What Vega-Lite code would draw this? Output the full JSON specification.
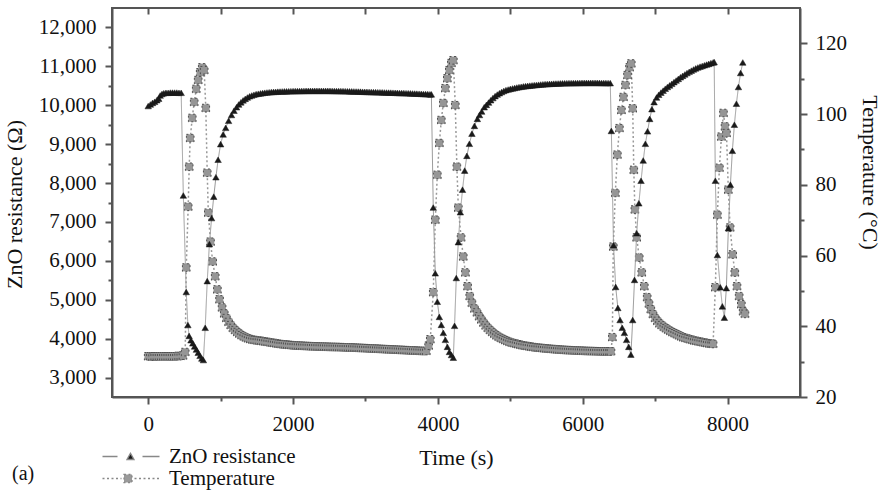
{
  "$schema": "https://vega.github.io/schema/vega-lite/v6.json",
  "width": 688,
  "height": 389,
  "autosize": {"type": "none"},
  "padding": {"left": 112, "top": 8, "right": 84, "bottom": 95},
  "background": "white",
  "title": {"text": "(a)", "orient": "bottom", "anchor": "start", "frame": "group", "dx": -100, "offset": -25, "font": "Liberation Serif", "fontSize": 20, "fontWeight": "normal", "color": "#111"},
  "config": {
    "font": "Liberation Serif",
    "view": {"stroke": "#555", "strokeWidth": 2},
    "axis": {"labelFont": "Liberation Serif", "titleFont": "Liberation Serif", "labelFontSize": 21, "titleFontSize": 22, "titleFontWeight": "normal", "labelColor": "#111", "titleColor": "#111", "domainColor": "#555", "domainWidth": 2, "tickColor": "#555", "tickWidth": 2, "grid": false}
  },
  "datasets": {
    "res": [
      {"t":0,"R":9980},{"t":30,"R":10020},{"t":60,"R":10060},{"t":90,"R":10090},{"t":120,"R":10130},{"t":145,"R":10170},{"t":165,"R":10250},{"t":190,"R":10290},{"t":215,"R":10310},{"t":245,"R":10320},{"t":275,"R":10320},{"t":305,"R":10325},{"t":335,"R":10325},{"t":365,"R":10325},{"t":395,"R":10325},{"t":425,"R":10320},{"t":455,"R":10320},
      {"t":485,"R":7680},{"t":525,"R":5200},{"t":548,"R":4350},{"t":565,"R":4070},{"t":590,"R":3960},{"t":615,"R":3880},{"t":640,"R":3800},{"t":665,"R":3720},{"t":690,"R":3640},{"t":715,"R":3560},{"t":740,"R":3490},{"t":762,"R":3450},
      {"t":787,"R":4280},{"t":815,"R":5480},{"t":845,"R":6430},{"t":875,"R":7100},{"t":905,"R":7650},{"t":935,"R":8150},{"t":965,"R":8600},{"t":1000,"R":9000},{"t":1035,"R":9250},{"t":1070,"R":9420},{"t":1110,"R":9600},{"t":1150,"R":9750},{"t":1185,"R":9860},{"t":1220,"R":9950},
      {"t":1250,"R":10020},{"t":1280,"R":10075},{"t":1310,"R":10125},{"t":1340,"R":10165},{"t":1370,"R":10200},{"t":1400,"R":10230},{"t":1430,"R":10252},{"t":1460,"R":10270},{"t":1490,"R":10285},{"t":1520,"R":10297},{"t":1550,"R":10305},{"t":1580,"R":10314},{"t":1610,"R":10322},{"t":1640,"R":10328},{"t":1670,"R":10334},{"t":1700,"R":10340},{"t":1730,"R":10343},{"t":1760,"R":10346},{"t":1790,"R":10349},{"t":1820,"R":10352},{"t":1850,"R":10355},{"t":1880,"R":10357},{"t":1910,"R":10358},{"t":1940,"R":10360},{"t":1970,"R":10361},
      {"t":2000,"R":10362},{"t":2030,"R":10364},{"t":2060,"R":10365},{"t":2090,"R":10366},{"t":2120,"R":10367},{"t":2150,"R":10368},{"t":2180,"R":10369},{"t":2210,"R":10369},{"t":2240,"R":10370},{"t":2270,"R":10370},{"t":2300,"R":10370},{"t":2330,"R":10370},{"t":2360,"R":10370},{"t":2390,"R":10370},{"t":2420,"R":10370},{"t":2450,"R":10370},{"t":2480,"R":10370},{"t":2510,"R":10369},{"t":2540,"R":10368},{"t":2570,"R":10367},{"t":2600,"R":10366},{"t":2630,"R":10365},{"t":2660,"R":10364},{"t":2690,"R":10362},{"t":2720,"R":10361},{"t":2750,"R":10360},{"t":2780,"R":10358},{"t":2810,"R":10356},{"t":2840,"R":10355},{"t":2870,"R":10353},{"t":2900,"R":10351},{"t":2930,"R":10349},{"t":2960,"R":10347},{"t":2990,"R":10345},{"t":3020,"R":10344},{"t":3050,"R":10342},{"t":3080,"R":10340},{"t":3110,"R":10338},{"t":3140,"R":10336},{"t":3170,"R":10334},{"t":3200,"R":10333},{"t":3230,"R":10331},{"t":3260,"R":10329},{"t":3290,"R":10327},{"t":3320,"R":10325},{"t":3350,"R":10324},{"t":3380,"R":10322},{"t":3410,"R":10320},{"t":3440,"R":10318},{"t":3470,"R":10316},{"t":3500,"R":10315},{"t":3530,"R":10313},{"t":3560,"R":10310},{"t":3590,"R":10308},{"t":3620,"R":10306},{"t":3650,"R":10303},{"t":3680,"R":10301},{"t":3710,"R":10298},{"t":3740,"R":10296},{"t":3770,"R":10293},{"t":3800,"R":10290},{"t":3830,"R":10288},{"t":3860,"R":10285},{"t":3890,"R":10281},{"t":3910,"R":10280},
      {"t":3936,"R":7370},{"t":3964,"R":5680},{"t":3992,"R":4950},{"t":4020,"R":4560},{"t":4047,"R":4355},{"t":4075,"R":4150},{"t":4103,"R":3970},{"t":4131,"R":3790},{"t":4159,"R":3660},{"t":4187,"R":3580},{"t":4213,"R":3510},
      {"t":4230,"R":4330},{"t":4254,"R":5560},{"t":4282,"R":6480},{"t":4310,"R":7250},{"t":4340,"R":7830},{"t":4370,"R":8320},{"t":4400,"R":8700},{"t":4435,"R":9010},{"t":4470,"R":9270},{"t":4505,"R":9470},{"t":4545,"R":9650},{"t":4575,"R":9750},{"t":4605,"R":9840},{"t":4640,"R":9950},
      {"t":4670,"R":10010},{"t":4700,"R":10070},{"t":4730,"R":10130},{"t":4760,"R":10185},{"t":4790,"R":10235},{"t":4820,"R":10275},{"t":4850,"R":10310},{"t":4880,"R":10340},{"t":4910,"R":10368},{"t":4940,"R":10390},{"t":4970,"R":10405},{"t":5000,"R":10420},{"t":5030,"R":10432},{"t":5060,"R":10444},{"t":5090,"R":10456},{"t":5120,"R":10466},{"t":5150,"R":10475},{"t":5180,"R":10484},{"t":5210,"R":10492},{"t":5240,"R":10498},{"t":5270,"R":10504},{"t":5300,"R":10510},{"t":5330,"R":10516},{"t":5360,"R":10522},{"t":5390,"R":10528},{"t":5420,"R":10533},{"t":5450,"R":10538},{"t":5480,"R":10542},{"t":5510,"R":10546},{"t":5540,"R":10549},{"t":5570,"R":10552},{"t":5600,"R":10555},{"t":5630,"R":10558},{"t":5660,"R":10560},{"t":5690,"R":10562},{"t":5720,"R":10564},{"t":5750,"R":10566},{"t":5780,"R":10567},{"t":5810,"R":10568},{"t":5840,"R":10569},{"t":5870,"R":10570},{"t":5900,"R":10571},{"t":5930,"R":10572},{"t":5960,"R":10573},{"t":5990,"R":10574},{"t":6020,"R":10574},{"t":6050,"R":10575},{"t":6080,"R":10575},{"t":6110,"R":10575},{"t":6140,"R":10575},{"t":6170,"R":10575},{"t":6200,"R":10575},{"t":6230,"R":10574},{"t":6260,"R":10573},{"t":6290,"R":10572},{"t":6320,"R":10571},{"t":6350,"R":10570},{"t":6380,"R":10568},
      {"t":6395,"R":9340},{"t":6425,"R":6400},{"t":6455,"R":5330},{"t":6485,"R":4790},{"t":6515,"R":4480},{"t":6545,"R":4280},{"t":6575,"R":4150},{"t":6605,"R":3970},{"t":6635,"R":3790},{"t":6665,"R":3590},
      {"t":6690,"R":4480},{"t":6715,"R":5510},{"t":6745,"R":6710},{"t":6775,"R":7480},{"t":6805,"R":8060},{"t":6835,"R":8580},{"t":6865,"R":9010},{"t":6895,"R":9330},{"t":6925,"R":9650},{"t":6955,"R":9900},{"t":6985,"R":10080},
      {"t":7020,"R":10200},{"t":7050,"R":10270},{"t":7080,"R":10325},{"t":7110,"R":10375},{"t":7140,"R":10425},{"t":7170,"R":10470},{"t":7200,"R":10510},{"t":7230,"R":10552},{"t":7260,"R":10594},{"t":7290,"R":10636},{"t":7320,"R":10678},{"t":7350,"R":10720},{"t":7380,"R":10756},{"t":7410,"R":10792},{"t":7440,"R":10828},{"t":7470,"R":10860},{"t":7500,"R":10890},{"t":7530,"R":10920},{"t":7560,"R":10948},{"t":7590,"R":10972},{"t":7620,"R":10993},{"t":7650,"R":11010},{"t":7680,"R":11028},{"t":7710,"R":11046},{"t":7740,"R":11064},{"t":7770,"R":11082},{"t":7800,"R":11100},{"t":7815,"R":11110},
      {"t":7831,"R":8060},{"t":7859,"R":6150},{"t":7900,"R":5320},{"t":7928,"R":4830},{"t":7956,"R":4540},
      {"t":7983,"R":5300},{"t":8011,"R":6840},{"t":8039,"R":7960},{"t":8066,"R":8830},{"t":8094,"R":9500},{"t":8122,"R":10040},{"t":8150,"R":10470},{"t":8180,"R":10830},{"t":8210,"R":11100}
    ],
    "temp": [
      {"t":0,"T":31.5},{"t":30,"T":31.5},{"t":60,"T":31.4},{"t":90,"T":31.5},{"t":120,"T":31.5},{"t":150,"T":31.5},{"t":180,"T":31.5},{"t":210,"T":31.5},{"t":240,"T":31.5},{"t":270,"T":31.5},{"t":300,"T":31.5},{"t":330,"T":31.5},{"t":360,"T":31.5},{"t":390,"T":31.5},{"t":420,"T":31.6},{"t":450,"T":31.6},{"t":480,"T":31.7},
      {"t":511,"T":32.7},{"t":525,"T":56.6},{"t":552,"T":73.8},{"t":566,"T":85.1},{"t":580,"T":93.2},{"t":608,"T":98.9},{"t":635,"T":103.4},{"t":663,"T":107.1},{"t":690,"T":109.6},{"t":718,"T":111.8},{"t":746,"T":113.2},{"t":773,"T":112.4},
      {"t":795,"T":101.7},{"t":815,"T":83.4},{"t":830,"T":72.1},{"t":860,"T":63.9},{"t":890,"T":58.3},{"t":925,"T":54.1},{"t":955,"T":50.4},{"t":985,"T":47.6},{"t":1020,"T":45.3},{"t":1050,"T":43.6},{"t":1080,"T":42.3},
      {"t":1110,"T":41.2},{"t":1140,"T":40.3},{"t":1170,"T":39.5},{"t":1200,"T":38.9},{"t":1230,"T":38.35},{"t":1260,"T":37.9},{"t":1290,"T":37.45},{"t":1320,"T":37.1},{"t":1350,"T":36.8},{"t":1380,"T":36.55},{"t":1410,"T":36.35},{"t":1440,"T":36.2},{"t":1470,"T":36.1},{"t":1500,"T":36.0},{"t":1530,"T":35.95},{"t":1560,"T":35.85},{"t":1590,"T":35.75},{"t":1620,"T":35.65},{"t":1650,"T":35.55},{"t":1680,"T":35.45},{"t":1710,"T":35.35},{"t":1740,"T":35.25},{"t":1770,"T":35.15},{"t":1800,"T":35.05},{"t":1830,"T":34.95},{"t":1860,"T":34.9},{"t":1890,"T":34.85},{"t":1920,"T":34.78},{"t":1950,"T":34.72},{"t":1980,"T":34.65},
      {"t":2010,"T":34.6},{"t":2040,"T":34.56},{"t":2070,"T":34.53},{"t":2100,"T":34.5},{"t":2130,"T":34.47},{"t":2160,"T":34.44},{"t":2190,"T":34.41},{"t":2220,"T":34.38},{"t":2250,"T":34.35},{"t":2280,"T":34.32},{"t":2310,"T":34.3},{"t":2340,"T":34.28},{"t":2370,"T":34.26},{"t":2400,"T":34.24},{"t":2430,"T":34.22},{"t":2460,"T":34.2},{"t":2490,"T":34.18},{"t":2520,"T":34.16},{"t":2550,"T":34.15},{"t":2580,"T":34.13},{"t":2610,"T":34.12},{"t":2640,"T":34.1},{"t":2670,"T":34.08},{"t":2700,"T":34.05},{"t":2730,"T":34.03},{"t":2760,"T":34.02},{"t":2790,"T":34.0},{"t":2820,"T":33.97},{"t":2850,"T":33.95},{"t":2880,"T":33.92},{"t":2910,"T":33.89},{"t":2940,"T":33.86},{"t":2970,"T":33.83},{"t":3000,"T":33.8},{"t":3030,"T":33.77},{"t":3060,"T":33.74},{"t":3090,"T":33.71},{"t":3120,"T":33.68},{"t":3150,"T":33.65},{"t":3180,"T":33.62},{"t":3210,"T":33.59},{"t":3240,"T":33.56},{"t":3270,"T":33.53},{"t":3300,"T":33.5},{"t":3330,"T":33.47},{"t":3360,"T":33.44},{"t":3390,"T":33.41},{"t":3420,"T":33.38},{"t":3450,"T":33.35},{"t":3480,"T":33.32},{"t":3510,"T":33.29},{"t":3540,"T":33.26},{"t":3570,"T":33.23},{"t":3600,"T":33.2},{"t":3630,"T":33.17},{"t":3660,"T":33.14},{"t":3690,"T":33.11},{"t":3720,"T":33.08},{"t":3750,"T":33.05},{"t":3780,"T":33.02},{"t":3810,"T":33.0},{"t":3840,"T":33.0},
      {"t":3872,"T":34.5},{"t":3895,"T":36.3},{"t":3936,"T":49.6},{"t":3964,"T":70.1},{"t":3992,"T":82.8},{"t":4020,"T":91.8},{"t":4047,"T":98.3},{"t":4075,"T":103.1},{"t":4103,"T":107.3},{"t":4130,"T":110.1},{"t":4158,"T":112.4},{"t":4186,"T":114.4},{"t":4213,"T":115.2},
      {"t":4240,"T":102.5},{"t":4262,"T":85.1},{"t":4282,"T":73.5},{"t":4320,"T":65.1},{"t":4350,"T":59.7},{"t":4380,"T":55.2},{"t":4410,"T":51.3},{"t":4440,"T":48.5},{"t":4470,"T":46.6},{"t":4505,"T":45.0},
      {"t":4540,"T":43.9},{"t":4570,"T":42.8},{"t":4600,"T":41.9},{"t":4630,"T":41.0},{"t":4660,"T":40.2},{"t":4690,"T":39.5},{"t":4720,"T":38.9},{"t":4750,"T":38.35},{"t":4780,"T":37.85},{"t":4810,"T":37.4},{"t":4840,"T":37.0},{"t":4870,"T":36.65},{"t":4900,"T":36.35},{"t":4930,"T":36.05},{"t":4960,"T":35.8},{"t":4990,"T":35.55},{"t":5020,"T":35.35},{"t":5050,"T":35.2},{"t":5080,"T":35.05},{"t":5110,"T":34.9},{"t":5140,"T":34.75},{"t":5170,"T":34.6},{"t":5200,"T":34.5},{"t":5230,"T":34.4},{"t":5260,"T":34.3},{"t":5290,"T":34.2},{"t":5320,"T":34.1},{"t":5350,"T":34.0},{"t":5380,"T":33.95},{"t":5410,"T":33.9},{"t":5440,"T":33.83},{"t":5470,"T":33.77},{"t":5500,"T":33.7},{"t":5530,"T":33.65},{"t":5560,"T":33.6},{"t":5590,"T":33.55},{"t":5620,"T":33.5},{"t":5650,"T":33.45},{"t":5680,"T":33.4},{"t":5710,"T":33.36},{"t":5740,"T":33.32},{"t":5770,"T":33.28},{"t":5800,"T":33.25},{"t":5830,"T":33.22},{"t":5860,"T":33.19},{"t":5890,"T":33.16},{"t":5920,"T":33.13},{"t":5950,"T":33.1},{"t":5980,"T":33.08},{"t":6010,"T":33.05},{"t":6040,"T":33.02},{"t":6070,"T":33.0},{"t":6100,"T":32.99},{"t":6130,"T":32.97},{"t":6160,"T":32.95},{"t":6190,"T":32.93},{"t":6220,"T":32.92},{"t":6250,"T":32.91},{"t":6280,"T":32.9},{"t":6310,"T":32.9},{"t":6340,"T":32.9},{"t":6370,"T":32.9},{"t":6390,"T":32.9},
      {"t":6409,"T":36.9},{"t":6422,"T":62.5},{"t":6450,"T":77.7},{"t":6478,"T":88.5},{"t":6506,"T":96.0},{"t":6534,"T":101.1},{"t":6562,"T":104.8},{"t":6590,"T":108.2},{"t":6618,"T":111.0},{"t":6646,"T":113.2},{"t":6670,"T":114.3},
      {"t":6690,"T":101.6},{"t":6705,"T":84.2},{"t":6720,"T":73.0},{"t":6745,"T":65.1},{"t":6780,"T":59.4},{"t":6815,"T":55.2},{"t":6850,"T":51.3},{"t":6890,"T":48.2},{"t":6915,"T":46.4},
      {"t":6940,"T":44.8},{"t":6970,"T":43.4},{"t":7000,"T":42.3},{"t":7030,"T":41.5},{"t":7060,"T":40.8},{"t":7090,"T":40.3},{"t":7120,"T":39.8},{"t":7150,"T":39.4},{"t":7180,"T":39.0},{"t":7210,"T":38.65},{"t":7240,"T":38.3},{"t":7270,"T":38.0},{"t":7300,"T":37.7},{"t":7330,"T":37.4},{"t":7360,"T":37.1},{"t":7390,"T":36.85},{"t":7420,"T":36.65},{"t":7450,"T":36.5},{"t":7480,"T":36.3},{"t":7510,"T":36.15},{"t":7540,"T":35.95},{"t":7570,"T":35.85},{"t":7600,"T":35.7},{"t":7630,"T":35.6},{"t":7660,"T":35.45},{"t":7690,"T":35.35},{"t":7720,"T":35.2},{"t":7750,"T":35.1},{"t":7780,"T":35.05},{"t":7800,"T":35.0},
      {"t":7831,"T":51.0},{"t":7859,"T":71.5},{"t":7887,"T":84.8},{"t":7915,"T":93.6},{"t":7943,"T":100.3},
      {"t":7965,"T":96.5},{"t":7985,"T":94.6},{"t":8010,"T":78.6},{"t":8035,"T":67.9},{"t":8070,"T":60.3},{"t":8100,"T":55.2},{"t":8130,"T":51.3},{"t":8160,"T":48.5},{"t":8190,"T":46.2},{"t":8215,"T":44.2},{"t":8240,"T":43.5}
    ]
  },
  "layer": [
    {
      "data": {"name": "temp"},
      "mark": {"type": "line", "color": "#999", "strokeWidth": 1.5,
        "point": {"shape": "square", "filled": true, "fill": "#969696", "stroke": "#505050", "strokeWidth": 1, "size": 58, "opacity": 1}},
      "encoding": {
        "x": {"field": "t", "type": "quantitative", "scale": {"domain": [-500, 9000], "nice": false, "zero": false},
          "axis": {"orient": "bottom", "title": "Time (s)", "values": [0,1000,2000,3000,4000,5000,6000,7000,8000], "format": "d",
            "labelExpr": "datum.value % 2000 == 0 ? datum.label : ''",
            "tickSize": {"condition": {"test": "datum.value % 2000 != 0", "value": 4}, "value": 7},
            "labelPadding": 9, "titlePadding": 13}},
        "y": {"field": "T", "type": "quantitative", "scale": {"domain": [20, 130], "nice": false, "zero": false},
          "axis": {"orient": "right", "title": "Temperature (°C)", "values": [20,30,40,50,60,70,80,90,100,110,120],
            "labelExpr": "datum.value % 20 == 0 ? datum.label : ''",
            "tickSize": {"condition": {"test": "datum.value % 20 != 0", "value": 4}, "value": 7},
            "labelPadding": 8, "titlePadding": 11, "titleY": 164}},
        "strokeDash": {"datum": "Temperature", "type": "nominal",
          "scale": {"domain": ["ZnO resistance", "Temperature"], "range": [[1, 0], [2, 2.5]]},
          "legend": {"orient": "none", "legendX": -15, "legendY": 438, "title": null, "symbolSize": 100, "symbolStrokeWidth": 1.3, "rowPadding": 0,
            "symbolType": {"expr": "datum.value == 'ZnO resistance' ? 'M-1,0H2M7,0H10.4M3.9,0.6L4.6,-0.65L5.3,0.6Z' : 'M-1,0H2.8M5.4,0H10.4M3.3,-0.8H4.9V0.8H3.3Z'"},
            "symbolFillColor": {"expr": "datum.value == 'ZnO resistance' ? '#1a1a1a' : '#9a9a9a'"},
            "symbolStrokeColor": "#888888",
            "labelFont": "Liberation Serif", "labelFontSize": 21, "labelColor": "#111", "labelOffset": 51, "padding": 0,
            "encode": {"symbols": {"update": {
              "fill": {"signal": "datum.value == 'ZnO resistance' ? '#1a1a1a' : '#9a9a9a'"},
              "stroke": {"value": "#888888"},
              "strokeWidth": {"value": 1.3},
              "opacity": {"value": 1}
            }}}}}
      }
    },
    {
      "data": {"name": "res"},
      "mark": {"type": "line", "color": "#999", "strokeWidth": 1,
        "point": {"shape": "triangle-up", "filled": true, "fill": "#1a1a1a", "stroke": "#1a1a1a", "strokeWidth": 0.5, "size": 42, "opacity": 1}},
      "encoding": {
        "x": {"field": "t", "type": "quantitative",
          "axis": {"orient": "top", "title": null, "labels": false, "domain": false, "values": [0,1000,2000,3000,4000,5000,6000,7000,8000], "tickSize": 6, "offset": -6}},
        "y": {"field": "R", "type": "quantitative", "scale": {"domain": [2500, 12500], "nice": false, "zero": false},
          "axis": {"orient": "left", "title": "ZnO resistance (Ω)", "values": [3000,3500,4000,4500,5000,5500,6000,6500,7000,7500,8000,8500,9000,9500,10000,10500,11000,11500,12000], "format": ",d",
            "labelExpr": "datum.value % 1000 == 0 ? datum.label : ''",
            "tickSize": {"condition": {"test": "datum.value % 1000 != 0", "value": 4}, "value": 7},
            "labelPadding": 9, "titlePadding": 12, "titleY": 196}},
        "strokeDash": {"datum": "ZnO resistance", "type": "nominal"}
      }
    }
  ],
  "resolve": {"scale": {"y": "independent"}}
}
